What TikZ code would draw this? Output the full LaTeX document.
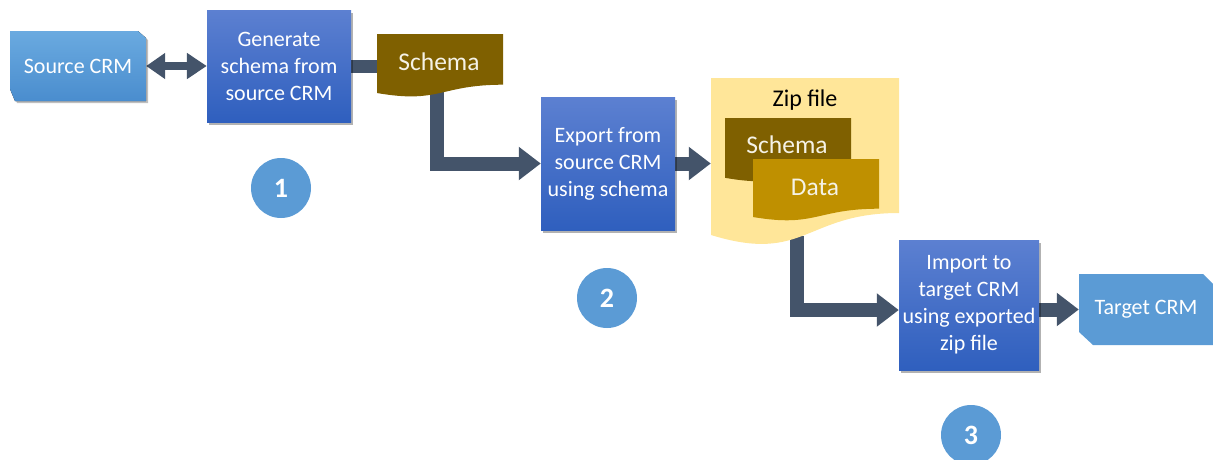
\documentclass[tikz,border=0pt]{standalone}
\usepackage{fontspec}
\setmainfont{Carlito}
\usetikzlibrary{arrows.meta,shadows}
\definecolor{cConn}{HTML}{44546A}
\definecolor{cBoxTop}{RGB}{92,128,209}
\definecolor{cBoxBot}{RGB}{47,95,190}
\definecolor{cSrcTop}{RGB}{106,170,224}
\definecolor{cSrcBot}{RGB}{74,141,206}
\definecolor{cTgt}{HTML}{5B9BD5}
\definecolor{cCircle}{HTML}{5B9BD5}
\definecolor{cSchema}{HTML}{7F6000}
\definecolor{cData}{HTML}{BF9000}
\definecolor{cZip}{HTML}{FFE699}
\definecolor{cDocText}{RGB}{245,242,230}
\pgfdeclarelayer{connlayer}
\pgfdeclarelayer{shapelayer}
\pgfsetlayers{connlayer,shapelayer,main}
\begin{document}
\begin{tikzpicture}[x=1pt,y=-1pt,
  stepbox/.style={shape=rectangle, inner sep=0pt, align=center, text=white,
    font=\fontsize{22}{27}\selectfont, top color=cBoxTop, bottom color=cBoxBot,
    drop shadow={shadow xshift=2pt, shadow yshift=-3pt, opacity=0.3, fill=black}},
  crmtext/.style={inner sep=0pt, text=white, font=\fontsize{22}{27}\selectfont},
  doctext/.style={inner sep=0pt, text=cDocText, font=\fontsize{25.5}{30}\selectfont},
  docarea/.style={inner sep=0pt},
  numcircle/.style={circle, fill=cCircle, inner sep=0pt, minimum size=60pt,
    text=white, font=\bfseries\fontsize{28}{30}\selectfont},
  flow/.style={draw=cConn, line width=14pt, -{Triangle[length=22pt,width=32pt]}},
  plainflow/.style={draw=cConn, line width=13pt},
  dblflow/.style={draw=cConn, line width=8pt,
    {Triangle[length=19pt,width=25pt]}-{Triangle[length=20pt,width=25pt]}}
]
\useasboundingbox (0,0) rectangle (1213,459);

% ---- nodes ----
\node[crmtext, minimum width=136pt, minimum height=70pt] (src) at (78,66) {Source CRM};
\node[stepbox, minimum width=144pt, minimum height=112pt] (gen) at (279,66)
  {Generate\\schema from\\source CRM};
\node[docarea, minimum width=126pt, minimum height=56pt] (schema) at (440,62) {};
\node[doctext] (schemalabel) at (439,62) {Schema};
\node[stepbox, minimum width=134pt, minimum height=133pt] (export) at (608,163.5)
  {Export from\\source CRM\\using schema};
\node[docarea, minimum width=188pt, minimum height=158pt] (zip) at (805,157) {};
\node[inner sep=0pt, text=black, font=\fontsize{24}{28}\selectfont] (ziplabel) at (805,100) {Zip file};
\node[doctext] (innerschema) at (787,145) {Schema};
\node[doctext] (data) at (815,187) {Data};
\node[stepbox, minimum width=140pt, minimum height=130pt] (import) at (969,305)
  {Import to\\target CRM\\using exported\\zip file};
\node[crmtext, minimum width=134pt, minimum height=71pt] (tgt) at (1146,309.5) {Target CRM};
\node[numcircle] (n1) at (281,188) {1};
\node[numcircle] (n2) at (607,298) {2};
\node[numcircle] (n3) at (971,435) {3};

% ---- shapes ----
\begin{pgfonlayer}{shapelayer}
  % Source CRM (snipped corners)
  \fill[top color=cSrcTop, bottom color=cSrcBot, drop shadow={shadow xshift=2pt, shadow yshift=-2pt, opacity=0.25, fill=black}]
    (10,31) -- (138,31) -- (146,38) -- (146,101) -- (15,101) -- (10,89) -- cycle;
  % Target CRM
  \fill[cTgt] (1079,274) -- (1203,274) -- (1213,284) -- (1213,345) -- (1093,345) -- (1079,332) -- cycle;
  % Schema document
  \fill[cSchema] (377,34) -- (503,34) -- (503,84.7)
    .. controls (440,84.7) and (440,104) .. (377,93) -- cycle;
  % Zip document
  \fill[cZip] (711,78) -- (899,78) -- (899,213)
    .. controls (805,213) and (805,264) .. (711,235) -- cycle;
  % inner Schema
  \fill[cSchema] (725,118) -- (851,118) -- (851,169.3)
    .. controls (788,169.3) and (788,189) .. (725,177.8) -- cycle;
  % Data
  \fill[cData] (753,159) -- (879,159) -- (879,208.7)
    .. controls (816,208.7) and (816,227.7) .. (753,217) -- cycle;
\end{pgfonlayer}

% ---- connectors ----
\begin{pgfonlayer}{connlayer}
  \draw[dblflow] (src.east) -- (gen.west);
  \draw[plainflow] (gen.east) -- (gen.east -| schema.west);
  \draw[flow] ([xshift=-3pt]schema.south) |- (export.west);
  \draw[flow] (export.east) -- (export.east -| zip.west);
  \draw[flow] ([xshift=-8pt]zip.south) |- ([yshift=-5pt]import.west);
  \draw[flow] (import.east |- tgt.west) -- (tgt.west);
\end{pgfonlayer}
\end{tikzpicture}
\end{document}
